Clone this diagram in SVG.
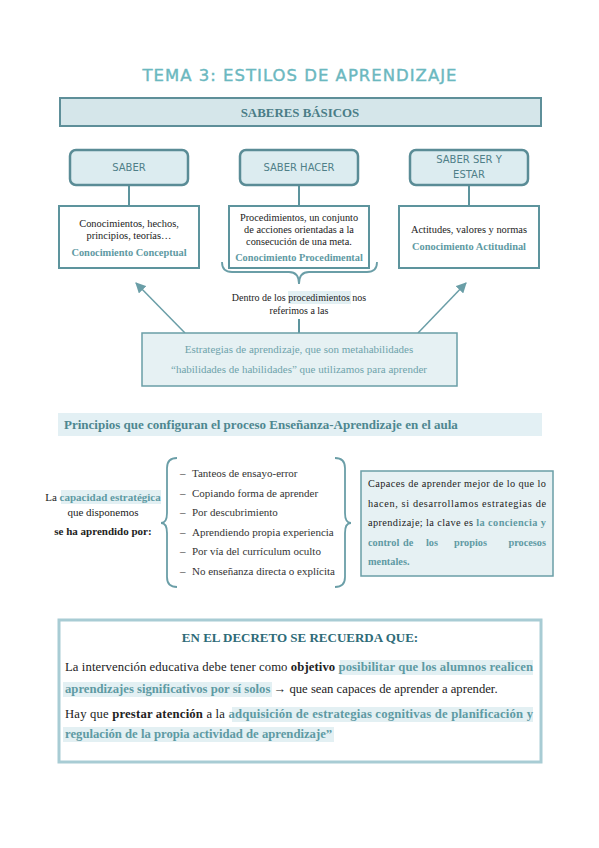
<svg xmlns="http://www.w3.org/2000/svg" width="599" height="848" viewBox="0 0 599 848">
<defs>
<style>
.serif{font-family:"Liberation Serif","Times New Roman",serif}
.hand{font-family:"DejaVu Sans","Noto Sans",sans-serif}
.teal{fill:#5e9aa3}
.dark{fill:#222}
.b{font-weight:bold}
.hl{fill:#e3f0f3}
.round{fill:#dcecf0;stroke:#5a8c96;stroke-width:2.5}
.sq{fill:#fff;stroke:#5d949d;stroke-width:2}
.soft{fill:#e6f1f3;stroke:#6a9ea7;stroke-width:1.5}
.conn{fill:none;stroke:#5d949d;stroke-width:2}
.brace{fill:none;stroke:#6a9ea7;stroke-width:1.8}
</style>
<marker id="ah" viewBox="0 0 10 10" refX="9" refY="5" markerWidth="7" markerHeight="7" orient="auto-start-reverse">
<path d="M0,0 L10,5 L0,10 z" fill="#6a9ea7"/>
</marker>
</defs>
<rect width="599" height="848" fill="#fff"/>

<g id="title">
<text x="300" y="81" text-anchor="middle" class="hand" font-size="16" fill="#6bb8bf" stroke="#6bb8bf" stroke-width="0.4" textLength="315" lengthAdjust="spacingAndGlyphs" letter-spacing="1">TEMA 3: ESTILOS DE APRENDIZAJE</text>
</g>

<g id="saberes">
<rect x="60" y="98" width="481" height="28" fill="#d5e6ea" stroke="#5e8f99" stroke-width="2"/>
<text x="300" y="117" text-anchor="middle" class="serif b" font-size="12.9" fill="#4a7d87">SABERES BÁSICOS</text>
</g>

<g id="connectors">
<line x1="129" y1="185" x2="129" y2="206" class="conn"/>
<line x1="299" y1="185" x2="299" y2="206" class="conn"/>
<line x1="469" y1="185" x2="469" y2="206" class="conn"/>
<path d="M222,262 Q222,272 232,272 L289,272 Q299,272 299,284 Q299,272 309,272 L367,272 Q377,272 377,262" class="brace" stroke-width="2"/>
<line x1="299" y1="319" x2="299" y2="333" class="conn"/>
<line x1="185" y1="333" x2="136" y2="283" stroke="#6a9ea7" stroke-width="1.5" marker-end="url(#ah)"/>
<line x1="418" y1="333" x2="466" y2="283" stroke="#6a9ea7" stroke-width="1.5" marker-end="url(#ah)"/>
<path d="M177,458 Q167,458 167,468 L167,513 Q167,523 161,523 Q167,523 167,533 L167,577 Q167,587 177,587" class="brace"/>
<path d="M335,458 Q345,458 345,468 L345,513 Q345,523 351,523 Q345,523 345,533 L345,577 Q345,587 335,587" class="brace"/>
</g>

<g id="saber">
<rect x="70" y="150" width="118" height="35" rx="6" class="round"/>
<text x="129" y="171" text-anchor="middle" class="hand" font-size="10" fill="#4f7f88">SABER</text>
</g>
<g id="saber-hacer">
<rect x="240" y="150" width="118" height="35" rx="6" class="round"/>
<text x="299" y="171" text-anchor="middle" class="hand" font-size="10" fill="#4f7f88">SABER HACER</text>
</g>
<g id="saber-ser">
<rect x="410" y="150" width="118" height="35" rx="6" class="round"/>
<text x="469" y="163" text-anchor="middle" class="hand" font-size="10" fill="#4f7f88">SABER SER Y</text>
<text x="469" y="178" text-anchor="middle" class="hand" font-size="10" fill="#4f7f88">ESTAR</text>
</g>

<g id="conceptual">
<rect x="59" y="206" width="140" height="62" class="sq"/>
<text x="129" y="227" text-anchor="middle" class="serif dark" font-size="10.4">Conocimientos, hechos,</text>
<text x="129" y="239" text-anchor="middle" class="serif dark" font-size="10.4">principios, teorías…</text>
<text x="129" y="256" text-anchor="middle" class="serif teal b" font-size="10.4">Conocimiento Conceptual</text>
</g>
<g id="procedimental">
<rect x="229" y="206" width="140" height="62" class="sq"/>
<text x="299" y="221" text-anchor="middle" class="serif dark" font-size="10.3">Procedimientos, un conjunto</text>
<text x="299" y="233" text-anchor="middle" class="serif dark" font-size="10.3">de acciones orientadas a la</text>
<text x="299" y="245" text-anchor="middle" class="serif dark" font-size="10.3">consecución de una meta.</text>
<text x="299" y="261" text-anchor="middle" class="serif teal b" font-size="10.3">Conocimiento Procedimental</text>
</g>
<g id="actitudinal">
<rect x="399" y="206" width="140" height="62" class="sq"/>
<text x="469" y="233" text-anchor="middle" class="serif dark" font-size="10.4">Actitudes, valores y normas</text>
<text x="469" y="250" text-anchor="middle" class="serif teal b" font-size="10.4">Conocimiento Actitudinal</text>
</g>

<g id="dentro">
<rect x="288" y="291" width="63" height="13" class="hl"/>
<text x="299" y="301" text-anchor="middle" class="serif dark" font-size="10">Dentro de los procedimientos nos</text>
<text x="299" y="314" text-anchor="middle" class="serif dark" font-size="10">referimos a las</text>
</g>

<g id="estrategias">
<rect x="142" y="333" width="315" height="53" class="soft"/>
<text x="299" y="353" text-anchor="middle" class="serif" font-size="11" fill="#6ea3ab">Estrategias de aprendizaje, que son metahabilidades</text>
<text x="299" y="373" text-anchor="middle" class="serif" font-size="11" fill="#6ea3ab">“habilidades de habilidades” que utilizamos para aprender</text>
</g>

<g id="principios">
<rect x="58" y="413" width="484" height="23" fill="#e3f0f4"/>
<text x="64" y="429" class="serif b" font-size="13" fill="#4e8790">Principios que configuran el proceso Enseñanza-Aprendizaje en el aula</text>
</g>

<g id="capacidad">
<rect x="61" y="490" width="100" height="14" class="hl"/>
<text x="103" y="501" text-anchor="middle" class="serif dark" font-size="11">La <tspan class="teal b">capacidad estratégica</tspan></text>
<text x="103" y="516" text-anchor="middle" class="serif dark" font-size="11">que disponemos</text>
<text x="103" y="535" text-anchor="middle" class="serif dark b" font-size="11">se ha aprendido por:</text>
</g>

<g id="lista">
<text class="serif" font-size="11" fill="#333">
<tspan x="180" y="477">–</tspan><tspan x="192" y="477">Tanteos de ensayo-error</tspan>
<tspan x="180" y="497">–</tspan><tspan x="192" y="497">Copiando forma de aprender</tspan>
<tspan x="180" y="516">–</tspan><tspan x="192" y="516">Por descubrimiento</tspan>
<tspan x="180" y="536">–</tspan><tspan x="192" y="536">Aprendiendo propia experiencia</tspan>
<tspan x="180" y="555">–</tspan><tspan x="192" y="555">Por vía del currículum oculto</tspan>
<tspan x="180" y="575">–</tspan><tspan x="192" y="575">No enseñanza directa o explícita</tspan>
</text>
</g>

<g id="capaces">
<rect x="361" y="471" width="192" height="105" class="soft"/>
<text x="368" y="487" class="serif dark" font-size="10.3" textLength="178" lengthAdjust="spacing">Capaces de aprender mejor de lo que lo</text>
<text x="368" y="507" class="serif dark" font-size="10.3" textLength="178" lengthAdjust="spacing">hacen, si desarrollamos estrategias de</text>
<text x="368" y="526" class="serif dark" font-size="10.3" textLength="178" lengthAdjust="spacing">aprendizaje; la clave es <tspan class="teal b">la conciencia y</tspan></text>
<text class="serif teal b" font-size="10.3"><tspan x="368" y="546">control</tspan><tspan x="403" y="546">de</tspan><tspan x="426" y="546">los</tspan><tspan x="454" y="546">propios</tspan><tspan x="546" y="546" text-anchor="end">procesos</tspan></text>
<text x="368" y="565" class="serif teal b" font-size="10.3">mentales.</text>
</g>

<g id="decreto">
<rect x="59" y="620" width="482" height="142" fill="#fff" stroke="#a8ccd4" stroke-width="3"/>
<text x="300" y="642" text-anchor="middle" class="serif b" font-size="13" fill="#2e6b78">EN EL DECRETO SE RECUERDA QUE:</text>
<rect x="340" y="660" width="193" height="15" class="hl"/>
<rect x="63" y="682" width="209" height="15" class="hl"/>
<rect x="232" y="707" width="301" height="15" class="hl"/>
<rect x="63" y="727" width="271" height="15" class="hl"/>
<text x="65" y="671" class="serif dark" font-size="12.7" textLength="468" lengthAdjust="spacing">La intervención educativa debe tener como <tspan class="b">objetivo</tspan> <tspan class="teal b">posibilitar que los alumnos realicen</tspan></text>
<text x="65" y="693" class="serif dark" font-size="12.7"><tspan class="teal b">aprendizajes significativos por sí solos</tspan> → que sean capaces de aprender a aprender.</text>
<text x="65" y="718" class="serif dark" font-size="12.7" textLength="468" lengthAdjust="spacing">Hay que <tspan class="b">prestar atención</tspan> a la <tspan class="teal b">adquisición de estrategias cognitivas de planificación y</tspan></text>
<text x="65" y="738" class="serif teal b" font-size="12.7">regulación de la propia actividad de aprendizaje”</text>
</g>
</svg>
